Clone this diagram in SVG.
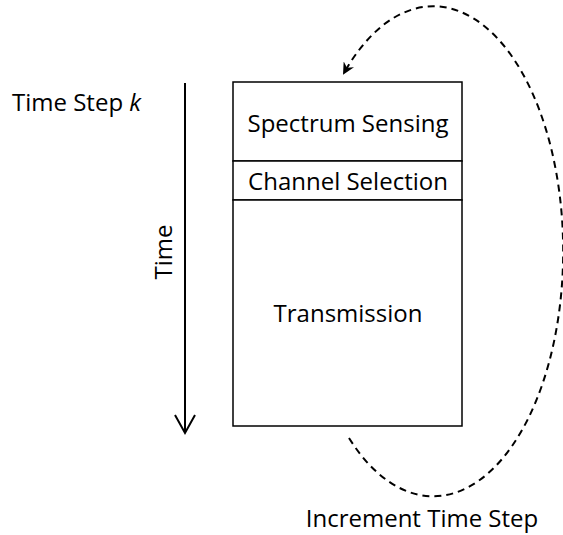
<svg xmlns="http://www.w3.org/2000/svg" width="563" height="535" viewBox="0 0 563 535">
  <style>
    .lbl { font-family: "Open Sans", "Liberation Sans", sans-serif; font-size: 24px; fill: #000; }
    .box { fill: #fff; stroke: #000; stroke-width: 1.5; }
    .dash { fill: none; stroke: #000; stroke-width: 2; stroke-dasharray: 7 5; }
    .solid { fill: none; stroke: #000; stroke-width: 2; }
  </style>
  <defs>
    <marker id="stealth" viewBox="0 0 12 12" refX="10" refY="6" markerWidth="12" markerHeight="12" markerUnits="userSpaceOnUse" orient="auto">
      <path d="M0,0 L12,6 L0,12 L4,6 Z" fill="#000"/>
    </marker>
  </defs>
  <rect width="563" height="535" fill="#fff"/>

  <g id="time-step-label">
    <text class="lbl" x="12" y="111">Time Step <tspan font-style="italic">k</tspan></text>
  </g>

  <g id="spectrum-sensing">
    <rect class="box" x="233" y="82" width="229" height="79"/>
    <text class="lbl" x="348" y="132" text-anchor="middle">Spectrum Sensing</text>
  </g>
  <g id="channel-selection">
    <rect class="box" x="233" y="161" width="229" height="39"/>
    <text class="lbl" x="348" y="190" text-anchor="middle">Channel Selection</text>
  </g>
  <g id="transmission">
    <rect class="box" x="233" y="200" width="229" height="226"/>
    <text class="lbl" x="348" y="322" text-anchor="middle">Transmission</text>
  </g>

  <g id="time-axis">
    <text class="lbl" transform="translate(172 252) rotate(-90)" text-anchor="middle">Time</text>
  </g>

  <g id="increment-label">
    <text class="lbl" x="422" y="527" text-anchor="middle">Increment Time Step</text>
  </g>

  <g id="connectors">
    <line class="solid" x1="185" y1="83" x2="185" y2="432"/>
    <polyline class="solid" points="175,415 185,433 195,415"/>
    <path class="dash" d="M349,438 A130 245 0 1 0 344,73" marker-end="url(#stealth)"/>
  </g>
</svg>
